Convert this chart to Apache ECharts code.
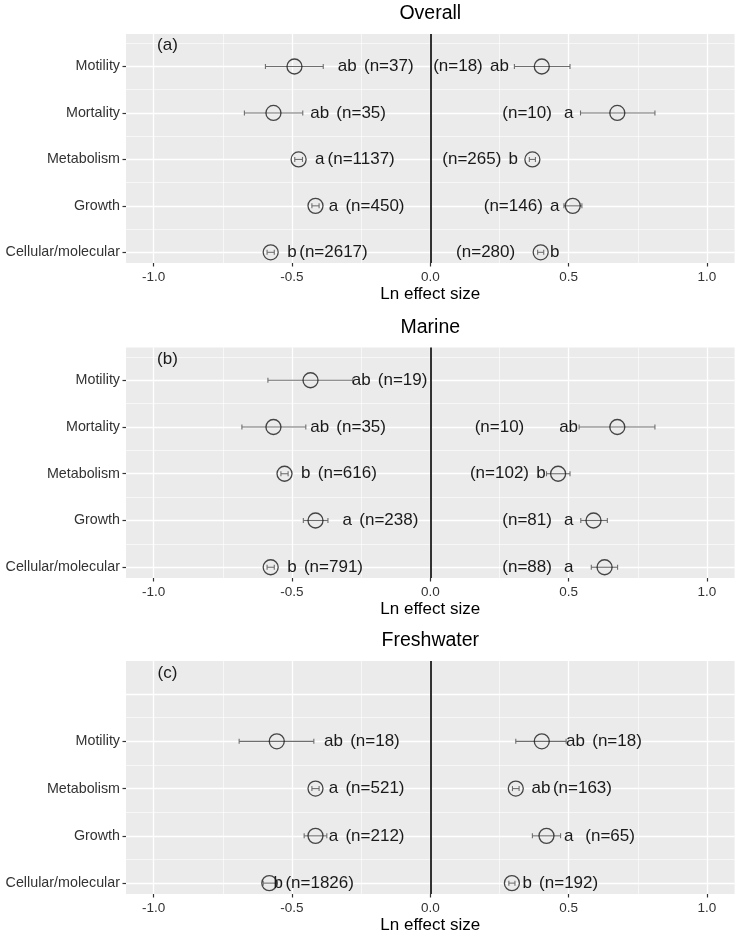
<!DOCTYPE html>
<html>
<head>
<meta charset="utf-8">
<script src="https://cdn.jsdelivr.net/npm/echarts@6/dist/echarts.min.js"></script>
<style>
  html, body { margin: 0; padding: 0; background: #fff; }
  #chart { width: 743px; height: 938px; }
</style>
</head>
<body>
<div id="chart"></div>
<script>
// ---- data (row 1 = bottom of each panel) ----
const panelTitles = ['Overall', 'Marine', 'Freshwater'];
const panelTags = ['(a)', '(b)', '(c)'];

// Overall
const overallCats = ['Cellular/molecular', 'Growth', 'Metabolism', 'Mortality', 'Motility'];
const overallNegMean = [-0.577, -0.415, -0.476, -0.567, -0.491];
const overallNegLow = [-0.590, -0.428, -0.490, -0.672, -0.596];
const overallNegHigh = [-0.564, -0.402, -0.462, -0.461, -0.387];
const overallPosMean = [0.399, 0.515, 0.369, 0.676, 0.403];
const overallPosLow = [0.388, 0.483, 0.358, 0.543, 0.304];
const overallPosHigh = [0.410, 0.548, 0.380, 0.812, 0.505];
const overallNegLetter = ['b', 'a', 'a', 'ab', 'ab'];
const overallNegN = [2617, 450, 1137, 35, 37];
const overallPosLetter = ['b', 'a', 'b', 'a', 'ab'];
const overallPosN = [280, 146, 265, 10, 18];
// where the annotations sit (x, in effect size units)
const overallNegLetterX = [-0.50, -0.35, -0.40, -0.40, -0.30];
const overallNegNX = [-0.35, -0.20, -0.25, -0.25, -0.15];
const overallPosLetterX = [0.45, 0.45, 0.30, 0.50, 0.25];
const overallPosNX = [0.20, 0.30, 0.15, 0.35, 0.10];

// Marine
const marineCats = ['Cellular/molecular', 'Growth', 'Metabolism', 'Mortality', 'Motility'];
const marineNegMean = [-0.577, -0.415, -0.527, -0.567, -0.433];
const marineNegLow = [-0.590, -0.459, -0.540, -0.681, -0.587];
const marineNegHigh = [-0.564, -0.370, -0.514, -0.450, -0.280];
const marinePosMean = [0.630, 0.590, 0.462, 0.676, null];
const marinePosLow = [0.582, 0.544, 0.420, 0.538, null];
const marinePosHigh = [0.677, 0.640, 0.505, 0.812, null];
const marineNegLetter = ['b', 'a', 'b', 'ab', 'ab'];
const marineNegN = [791, 238, 616, 35, 19];
const marinePosLetter = ['a', 'a', 'b', 'ab', null];
const marinePosN = [88, 81, 102, 10, null];
const marineNegLetterX = [-0.50, -0.30, -0.45, -0.40, -0.25];
const marineNegNX = [-0.35, -0.15, -0.30, -0.25, -0.10];
const marinePosLetterX = [0.50, 0.50, 0.40, 0.50, null];
const marinePosNX = [0.35, 0.35, 0.25, 0.25, null];

// Freshwater (no mortality row, top slot left empty)
const freshCats = ['Cellular/molecular', 'Growth', 'Metabolism', 'Motility'];
const freshNegMean = [-0.582, -0.415, -0.415, -0.555];
const freshNegLow = [-0.604, -0.456, -0.428, -0.691];
const freshNegHigh = [-0.553, -0.374, -0.402, -0.421];
const freshPosMean = [0.295, 0.420, 0.309, 0.403];
const freshPosLow = [0.284, 0.369, 0.297, 0.309];
const freshPosHigh = [0.306, 0.471, 0.321, 0.491];
const freshNegLetter = ['b', 'a', 'a', 'ab'];
const freshNegN = [1826, 212, 521, 18];
const freshPosLetter = ['b', 'a', 'ab', 'ab'];
const freshPosN = [192, 65, 163, 18];
const freshNegLetterX = [-0.55, -0.35, -0.35, -0.35];
const freshNegNX = [-0.40, -0.20, -0.20, -0.20];
const freshPosLetterX = [0.35, 0.50, 0.40, 0.525];
const freshPosNX = [0.50, 0.65, 0.55, 0.675];

const xTicks = [-1.0, -0.5, 0.0, 0.5, 1.0];
const xMinor = [-0.75, -0.25, 0.25, 0.75];
const tagPos = [-0.95, 5.45];

// ---- layout ----
const FONT = '"Liberation Sans", Arial, Helvetica, sans-serif';
const gridTops = [34, 347.5, 661];
const gridHeights = [229, 230.5, 233];
const gridLeft = 126, gridRight = 8.4;
const X_MIN = -1.1, X_MAX = 1.1, Y_MIN = 0.77, Y_MAX = 5.7;

const panels = [
    {
        cats: overallCats, majorRows: [1, 2, 3, 4, 5], minorRows: [1.5, 2.5, 3.5, 4.5, 5.5],
        neg: [overallNegMean, overallNegLow, overallNegHigh, overallNegLetter, overallNegN, overallNegLetterX, overallNegNX],
        pos: [overallPosMean, overallPosLow, overallPosHigh, overallPosLetter, overallPosN, overallPosLetterX, overallPosNX]
    },
    {
        cats: marineCats, majorRows: [1, 2, 3, 4, 5], minorRows: [1.5, 2.5, 3.5, 4.5, 5.5],
        neg: [marineNegMean, marineNegLow, marineNegHigh, marineNegLetter, marineNegN, marineNegLetterX, marineNegNX],
        pos: [marinePosMean, marinePosLow, marinePosHigh, marinePosLetter, marinePosN, marinePosLetterX, marinePosNX]
    },
    {
        cats: freshCats, majorRows: [1, 2, 3, 4, 5], minorRows: [1.5, 2.5, 3.5, 4.5],
        neg: [freshNegMean, freshNegLow, freshNegHigh, freshNegLetter, freshNegN, freshNegLetterX, freshNegNX],
        pos: [freshPosMean, freshPosLow, freshPosHigh, freshPosLetter, freshPosN, freshPosLetterX, freshPosNX]
    }
];

const grids = [], xAxes = [], yAxes = [], series = [], graphics = [];

function errorBarItem(params, api) {
    const y = api.value(2);
    const a = api.coord([api.value(0), y]);
    const b = api.coord([api.value(1), y]);
    const cap = 2.5;
    const st = { stroke: '#6e6e6e', lineWidth: 1.1 };
    return {
        type: 'group',
        children: [
            { type: 'line', shape: { x1: a[0], y1: a[1], x2: b[0], y2: b[1] }, style: st },
            { type: 'line', shape: { x1: a[0], y1: a[1] - cap, x2: a[0], y2: a[1] + cap }, style: st },
            { type: 'line', shape: { x1: b[0], y1: b[1] - cap, x2: b[0], y2: b[1] + cap }, style: st }
        ]
    };
}

function textSeries(i, points, texts, size) {
    return {
        type: 'custom', xAxisIndex: 2 * i, yAxisIndex: 3 * i, z: 5, silent: true,
        data: points,
        encode: { x: 0, y: 1 },
        renderItem: function (params, api) {
            const p = api.coord([api.value(0), api.value(1)]);
            return {
                type: 'text', x: p[0], y: p[1],
                style: {
                    text: texts[params.dataIndex], textAlign: 'center', textVerticalAlign: 'middle',
                    fill: '#1a1a1a', font: size + 'px ' + FONT
                }
            };
        }
    };
}

// hidden axis that only carries grid lines at the given values
function gridOnlyAxis(i, min, max, values, width, pos) {
    return {
        gridIndex: i, type: 'value', min: min, max: max, position: pos,
        axisLine: { show: false, onZero: false }, axisLabel: { show: false },
        axisTick: { show: false, customValues: values },
        splitLine: { show: true, lineStyle: { color: '#fff', width: width } }
    };
}

panels.forEach(function (pnl, i) {
    grids.push({
        left: gridLeft, right: gridRight, top: gridTops[i], height: gridHeights[i],
        show: true, backgroundColor: '#ebebeb', borderWidth: 0
    });

    // labelled x axis + major vertical grid
    xAxes.push({
        gridIndex: i, type: 'value', min: X_MIN, max: X_MAX, position: 'bottom',
        axisLine: { show: false, onZero: false },
        axisTick: { show: true, length: 3.5, customValues: xTicks, lineStyle: { color: '#333', width: 1.2 } },
        axisLabel: {
            customValues: xTicks, color: '#333', fontSize: 13.5, fontFamily: FONT, margin: 7,
            formatter: function (v) { return v.toFixed(1); }
        },
        splitLine: { show: true, lineStyle: { color: '#fff', width: 1.3 } },
        name: 'Ln effect size', nameLocation: 'middle', nameGap: 23,
        nameTextStyle: { color: '#000', fontSize: 17, fontFamily: FONT }
    });
    xAxes.push(gridOnlyAxis(i, X_MIN, X_MAX, xMinor, 0.6, 'bottom'));

    const labelRows = pnl.cats.map(function (c, k) { return k + 1; });
    yAxes.push({
        gridIndex: i, type: 'value', min: Y_MIN, max: Y_MAX, position: 'left',
        axisLine: { show: false, onZero: false },
        axisTick: { show: true, length: 3.5, customValues: labelRows, lineStyle: { color: '#333', width: 1.2 } },
        axisLabel: {
            customValues: labelRows, color: '#333', fontSize: 14.3, fontFamily: FONT, margin: 6,
            formatter: function (v) { return pnl.cats[Math.round(v) - 1] || ''; }
        },
        splitLine: { show: false }
    });
    yAxes.push(gridOnlyAxis(i, Y_MIN, Y_MAX, pnl.majorRows, 1.3, 'left'));
    yAxes.push(gridOnlyAxis(i, Y_MIN, Y_MAX, pnl.minorRows, 0.6, 'left'));

    const bars = [], dots = [], labPts = [], labTxt = [];
    [pnl.neg, pnl.pos].forEach(function (side) {
        const mean = side[0], lo = side[1], hi = side[2], let_ = side[3], n = side[4], lx = side[5], nx = side[6];
        mean.forEach(function (m, k) {
            if (m === null) return;
            const row = k + 1;
            bars.push([lo[k], hi[k], row]);
            dots.push([m, row]);
            labPts.push([lx[k], row]); labTxt.push(let_[k]);
            labPts.push([nx[k], row]); labTxt.push('(n=' + n[k] + ')');
        });
    });

    series.push({
        type: 'custom', xAxisIndex: 2 * i, yAxisIndex: 3 * i, z: 3, silent: true,
        data: bars, encode: { x: [0, 1], y: 2 },
        renderItem: errorBarItem,
        markLine: {
            silent: true, symbol: 'none', label: { show: false },
            lineStyle: { color: '#000', width: 1.6, type: 'solid' },
            data: [{ xAxis: 0 }]
        }
    });
    series.push({
        type: 'scatter', xAxisIndex: 2 * i, yAxisIndex: 3 * i, z: 4, silent: true,
        data: dots, symbol: 'circle', symbolSize: 15,
        itemStyle: { color: 'rgba(0,0,0,0)', borderColor: '#1a1a1a', borderWidth: 1.3 }
    });
    series.push(textSeries(i, labPts, labTxt, 17));
    series.push(textSeries(i, [tagPos], [panelTags[i]], 17));

    graphics.push({
        type: 'text', x: gridLeft + (743 - gridLeft - gridRight) / 2, y: gridTops[i] - 20,
        style: {
            text: panelTitles[i], textAlign: 'center', textVerticalAlign: 'middle',
            fill: '#000', font: '19.5px ' + FONT
        }
    });
});

const chart = echarts.init(document.getElementById('chart'));
chart.setOption({
    animation: false,
    backgroundColor: '#fff',
    grid: grids,
    xAxis: xAxes,
    yAxis: yAxes,
    series: series,
    graphic: graphics
});
</script>
</body>
</html>
